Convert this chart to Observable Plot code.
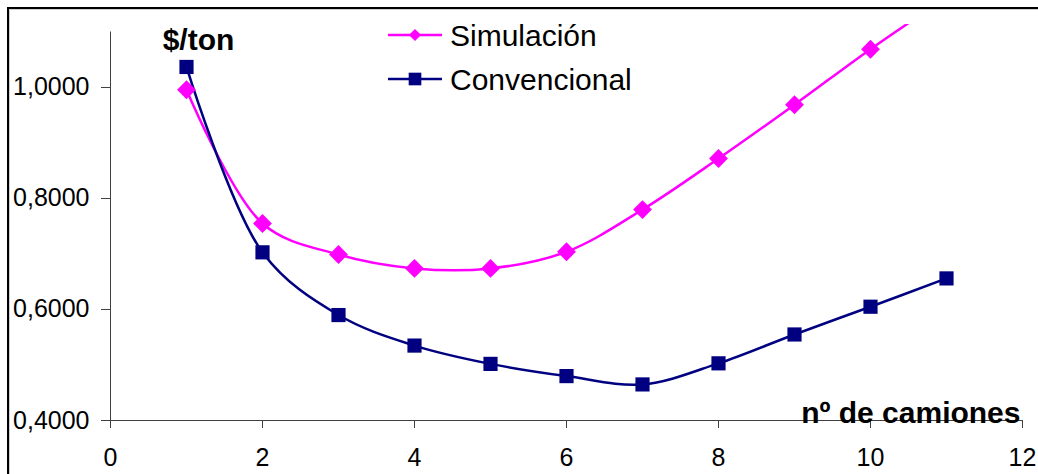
<!DOCTYPE html>
<html>
<head>
<meta charset="utf-8">
<script src="https://cdn.jsdelivr.net/npm/d3@7"></script>
<script src="https://cdn.jsdelivr.net/npm/@observablehq/plot@0.6"></script>
<style>
  html, body { margin: 0; padding: 0; background: #fff; }
  #wrap { position: relative; width: 1038px; height: 474px; overflow: hidden; font-family: Arial, "Liberation Sans", sans-serif; }
  #border { position: absolute; left: 7px; top: 7px; width: 1200px; height: 700px;
            border-top: 2px solid #000; border-left: 2px solid #000;
            box-shadow: inset 1px 1px 0 #d0d0d0; }
  #chart { position: absolute; left: 0; top: 0; }
  #legend { position: absolute; left: 0; top: 0; pointer-events: none; }
</style>
</head>
<body>
<div id="wrap">
  <div id="border"></div>
  <div id="chart"></div>
  <svg id="legend" width="1038" height="474"></svg>
</div>
<script>
// Cost per ton versus number of trucks
const camiones = [1, 2, 3, 4, 5, 6, 7, 8, 9, 10, 11];
const simulacion = [0.996, 0.755, 0.699, 0.674, 0.674, 0.704, 0.780, 0.872, 0.969, 1.069, 1.162];
const convencional = [1.037, 0.703, 0.590, 0.535, 0.502, 0.480, 0.465, 0.503, 0.555, 0.605, 0.656];

const seriesNames = ["Simulación", "Convencional"];
const seriesColors = ["#FF00FF", "#000080"];

const xTicks = [0, 2, 4, 6, 8, 10, 12];
const yTicks = [0.4, 0.6, 0.8, 1.0];
const yAxisMax = 1.1;

const simRows = camiones.map((c, i) => ({ x: c, y: simulacion[i] }));
const convRows = camiones.map((c, i) => ({ x: c, y: convencional[i] }));

const fmtY = d => d.toFixed(4).replace(".", ",");
const axisColor = "#404040";

const chart = Plot.plot({
  width: 1038,
  height: 474,
  marginLeft: 110,
  marginRight: 16,
  marginTop: 24,
  marginBottom: 54,
  x: { domain: [xTicks[0], xTicks[xTicks.length - 1]] },
  y: { domain: [yTicks[0], 1.1135] },
  style: { fontFamily: 'Arial, "Liberation Sans", sans-serif', background: "transparent", color: "#000" },
  marks: [
    Plot.axisX({ ticks: xTicks, tickSize: 8, tickPadding: 20, tickFormat: d => String(d), fontSize: 25, stroke: axisColor, fill: "#000", label: null }),
    Plot.axisY({ ticks: yTicks, tickSize: 9, tickPadding: 12, tickFormat: fmtY, fontSize: 25, stroke: axisColor, fill: "#000", label: null }),
    Plot.ruleY([yTicks[0]], { x1: xTicks[0], x2: xTicks[xTicks.length - 1], stroke: axisColor, strokeWidth: 1 }),
    Plot.ruleX([xTicks[0]], { y1: yTicks[0], y2: yAxisMax, stroke: axisColor, strokeWidth: 1 }),
    Plot.line(simRows, { x: "x", y: "y", curve: "catmull-rom", stroke: seriesColors[0], strokeWidth: 2.5, clip: true }),
    Plot.line(convRows, { x: "x", y: "y", curve: "catmull-rom", stroke: seriesColors[1], strokeWidth: 2.5, clip: true }),
    Plot.dot(simRows, { x: "x", y: "y", symbol: "diamond2", r: 8.5, fill: seriesColors[0], stroke: "none", clip: true }),
    Plot.dot(convRows, { x: "x", y: "y", symbol: "square", r: 8, fill: seriesColors[1], stroke: "none", clip: true }),
    Plot.text(["$/ton"], { frameAnchor: "top-left", dx: 88, dy: 25, textAnchor: "middle", lineAnchor: "bottom", fontSize: 30, fontWeight: "bold", fill: "#000" }),
    Plot.text(["nº de camiones"], { frameAnchor: "bottom-right", dx: -2, dy: 2, textAnchor: "end", lineAnchor: "bottom", fontSize: 30, fontWeight: "bold", fill: "#000" })
  ]
});
document.getElementById("chart").appendChild(chart);

// Legend: line sample with its marker, then the series name
const legend = d3.select("#legend");
const legendRows = [
  { name: seriesNames[0], color: seriesColors[0], symbol: d3.symbolDiamond2, size: 95, cy: 35 },
  { name: seriesNames[1], color: seriesColors[1], symbol: d3.symbolSquare, size: 160, cy: 79 }
];
const g = legend.selectAll("g").data(legendRows).join("g")
  .attr("transform", d => `translate(388,${d.cy})`);
g.append("line").attr("x1", 0).attr("x2", 54).attr("y1", 0).attr("y2", 0)
  .attr("stroke", d => d.color).attr("stroke-width", 2.5);
g.append("path").attr("transform", "translate(27,0)")
  .attr("d", d => d3.symbol(d.symbol, d.size)())
  .attr("fill", d => d.color);
g.append("text").attr("x", 62).attr("y", 0).attr("dy", "0.35em")
  .attr("font-size", 30).attr("font-family", 'Arial, "Liberation Sans", sans-serif')
  .attr("fill", "#000").text(d => d.name);
</script>
</body>
</html>
